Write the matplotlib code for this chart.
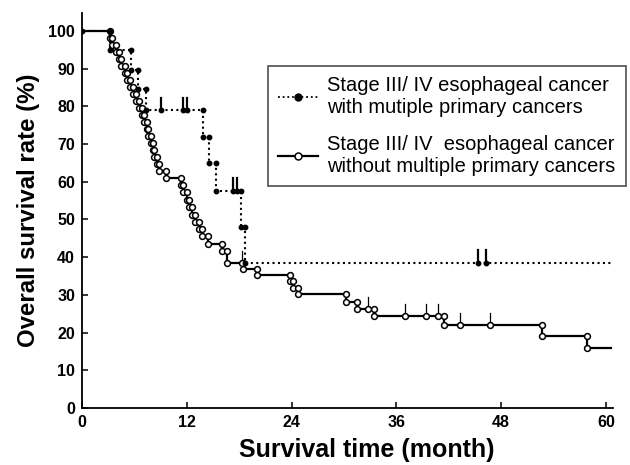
import matplotlib
matplotlib.use('Agg')
import matplotlib.pyplot as plt
from matplotlib.lines import Line2D

plt.rcParams['font.family'] = ['Liberation Sans', 'DejaVu Sans']

# ---- Data ----
# Stage III/IV with multiple primary cancers (dotted, filled markers)
mp_event_times = [3.2, 5.6, 6.4, 7.3, 13.9, 14.6, 15.4, 18.2, 18.7]
mp_survival = [95.0, 89.7, 84.6, 79.0, 71.9, 65.0, 57.6, 48.0, 38.5]
mp_censor_times = [9.1, 11.6, 12.0, 17.3, 17.8, 45.3, 46.3]
mp_end = 60.6

# Stage III/IV without multiple primary cancers (solid, open markers)
np_event_times = [3.2, 3.5, 3.9, 4.2, 4.5, 4.9, 5.2, 5.5, 5.8, 6.2, 6.5, 6.9,
                  7.1, 7.4, 7.6, 7.9, 8.1, 8.3, 8.6, 8.8, 9.6,
                  11.3, 11.6, 12.0, 12.3, 12.6, 13.0, 13.4, 13.8, 14.4,
                  16.0, 16.6, 18.5, 20.1, 23.8, 24.2, 24.7,
                  30.2, 31.5, 33.4, 41.4, 52.7, 57.8]
np_survival = [98.1, 96.3, 94.4, 92.6, 90.7, 88.9, 87.0, 85.1, 83.3, 81.4, 79.6, 77.7,
               75.9, 74.0, 72.1, 70.3, 68.4, 66.6, 64.7, 62.9, 61.0,
               59.1, 57.2, 55.2, 53.3, 51.3, 49.4, 47.4, 45.5, 43.5,
               41.5, 38.5, 36.8, 35.3, 33.6, 31.9, 30.2,
               28.0, 26.2, 24.4, 22.1, 19.1, 15.9]
np_censor_times = [18.3, 32.7, 37.0, 39.4, 40.8, 43.3, 46.7]
np_end = 60.6

x_ticks = [0, 12, 24, 36, 48, 60]
y_ticks = [0, 10, 20, 30, 40, 50, 60, 70, 80, 90, 100]

legend_labels = ['Stage III/ IV esophageal cancer\nwith mutiple primary cancers',
                 'Stage III/ IV  esophageal cancer\nwithout multiple primary cancers']


def step_vertices(times, surv, end):
    xs, ys = [0.0], [100.0]
    prev = 100.0
    for t, s in zip(times, surv):
        xs += [t, t]
        ys += [prev, s]
        prev = s
    xs.append(end)
    ys.append(prev)
    return xs, ys


def surv_at(t, times, surv):
    v = 100.0
    for tt, s in zip(times, surv):
        if tt <= t:
            v = s
    return v


fig = plt.figure(figsize=(6.3, 4.65), dpi=100)
ax = fig.add_axes([0.130, 0.1226, 0.843, 0.850])

OPEN_MS = 4.2
FILL_MS = 3.2

# without multiple primary cancers
nx, ny = step_vertices(np_event_times, np_survival, np_end)
ax.plot(nx, ny, color='black', lw=1.6, zorder=2)
ax.plot(nx[1:-1], ny[1:-1], ls='none', marker='o', ms=OPEN_MS, mfc='white', mec='black',
        mew=1.1, zorder=3)
for t in np_censor_times:
    s = surv_at(t, np_event_times, np_survival)
    ax.plot([t, t], [s, s + 3.1], color='black', lw=0.9, zorder=3)
    ax.plot([t], [s], ls='none', marker='o', ms=OPEN_MS, mfc='white', mec='black',
            mew=1.1, zorder=3)

# with multiple primary cancers
mx, my = step_vertices(mp_event_times, mp_survival, mp_end)
ax.plot(mx, my, color='black', lw=1.5, ls=(0, (1, 1.6)), zorder=4)
ax.plot(mx[:-1], my[:-1], ls='none', marker='o', ms=FILL_MS, mfc='black', mec='black',
        zorder=5)
for t in mp_censor_times:
    s = surv_at(t, mp_event_times, mp_survival)
    ax.plot([t, t], [s, s + 3.3], color='black', lw=1.6, zorder=5)
    ax.plot([t], [s], ls='none', marker='o', ms=FILL_MS, mfc='black', mec='black', zorder=5)

ax.set_xlim(0, 60.8)
ax.set_ylim(0, 104.8)
ax.set_xticks(x_ticks)
ax.set_yticks(y_ticks)
ax.tick_params(direction='in', length=4, width=1.1, labelsize=11.5, pad=5)
for lab in ax.get_xticklabels() + ax.get_yticklabels():
    lab.set_fontweight('bold')
for sp in ['top', 'right']:
    ax.spines[sp].set_visible(False)
for sp in ['left', 'bottom']:
    ax.spines[sp].set_linewidth(1.3)

ax.set_xlabel('Survival time (month)', fontsize=18, fontweight='bold')
ax.xaxis.set_label_coords(0.537, -0.075)
ax.set_ylabel('Overall survival rate (%)', fontsize=17.3, fontweight='bold', labelpad=6)

handles = [
    Line2D([], [], color='black', lw=1.3, ls=(0, (1, 1.6)), marker='o', ms=5,
           mfc='black', mec='black'),
    Line2D([], [], color='black', lw=1.6, marker='o', ms=5, mfc='white', mec='black',
           mew=1.1),
]
leg = fig.legend(handles, legend_labels, loc='upper right',
                 bbox_to_anchor=(0.993, 0.858), frameon=True, fancybox=False,
                 fontsize=14.5, handlelength=2.0, handletextpad=0.45,
                 labelspacing=0.9, borderpad=0.5, borderaxespad=0.0,
                 numpoints=1)
leg.get_frame().set_edgecolor('#333333')
leg.get_frame().set_linewidth(1.3)

fig.savefig('out.png', dpi=100)
